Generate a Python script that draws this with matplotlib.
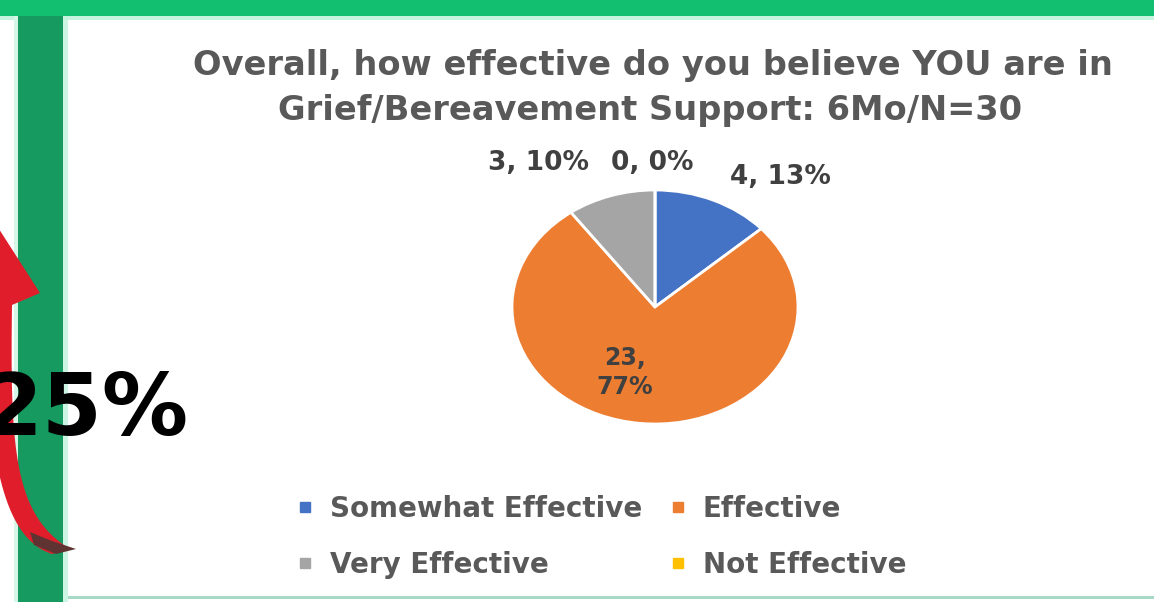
import matplotlib
matplotlib.use("Agg")
import matplotlib.pyplot as plt
import numpy as np
from matplotlib.patches import Rectangle, Polygon
from matplotlib.lines import Line2D

# ---- data -------------------------------------------------------------
title_lines = ["Overall, how effective do you believe YOU are in",
               "Grief/Bereavement Support: 6Mo/N=30"]
categories = ["Somewhat Effective", "Effective", "Very Effective", "Not Effective"]
counts = [4, 23, 3, 0]
slice_colors = ["#4472C4", "#ED7D31", "#A5A5A5", "#FFC000"]
side_stat = "25%"

# ---- layout -----------------------------------------------------------
W, H = 1154, 602
DPI = 100
fig = plt.figure(figsize=(W / DPI, H / DPI), dpi=DPI)
fig.patch.set_facecolor("white")

# background canvas in pixel units (y grows downwards)
bg = fig.add_axes([0, 0, 1, 1], zorder=0)
bg.set_xlim(0, W)
bg.set_ylim(H, 0)
bg.axis("off")

# slide frame: top band, left vertical band, bottom rule
bg.add_patch(Rectangle((0, 0), W, 16, color="#12bf70", lw=0))
bg.add_patch(Rectangle((0, 16), W, 4, color="#c4f4de", lw=0))
bg.add_patch(Rectangle((14, 16), 4, H, color="#d6f6e8", lw=0))
bg.add_patch(Rectangle((18, 16), 45, H, color="#169a60", lw=0))
bg.add_patch(Rectangle((63, 20), 5, H, color="#cdf5e4", lw=0))
bg.add_patch(Rectangle((68, 596), W, 3, color="#a6d9c6", lw=0))

# curved red arrow on the left edge
def bez3(p0, p1, p2, p3, n=40):
    t = np.linspace(0, 1, n)[:, None]
    p0, p1, p2, p3 = map(np.asarray, (p0, p1, p2, p3))
    return ((1 - t) ** 3 * p0 + 3 * (1 - t) ** 2 * t * p1
            + 3 * (1 - t) * t ** 2 * p2 + t ** 3 * p3)

inner = bez3((12, 305), (10, 450), (14, 515), (70, 549))
outer = bez3((52, 554), (10, 540), (-14, 480), (-14, 305))
head = np.array([(-14, 305), (-50, 293), (-10, 215), (40, 293), (12, 305)])
arrow_pts = np.vstack([head, inner, outer])
bg.add_patch(Polygon(arrow_pts, closed=True, color="#e01e2b", lw=0, zorder=2))
tail = np.array([(30, 532), (52, 541), (76, 549), (56, 554), (34, 545)])
bg.add_patch(Polygon(tail, closed=True, color="#5e3332", lw=0, zorder=3))

bg.text(188, 435, side_stat, ha="right", va="baseline", fontsize=62,
        fontweight="bold", color="black", family="DejaVu Sans", zorder=4)

# title
title_color = "#595959"
bg.text(653, 75, title_lines[0], ha="center", va="baseline", fontsize=24.2,
        fontweight="bold", color=title_color, zorder=4)
bg.text(650, 120, title_lines[1], ha="center", va="baseline", fontsize=24.2,
        fontweight="bold", color=title_color, zorder=4)

# ---- pie (stretched horizontally like the slide) ----------------------
cx, cy, rx, ry = 655, 307, 143, 117
ax = fig.add_axes([(cx - rx) / W, 1 - (cy + ry) / H, 2 * rx / W, 2 * ry / H], zorder=5)
wedges, _ = ax.pie(counts, colors=slice_colors, startangle=90, counterclock=False,
                   wedgeprops=dict(edgecolor="white", linewidth=2))
ax.set_aspect("auto")
ax.set_xlim(-1, 1)
ax.set_ylim(-1, 1)
ax.axis("off")

total = sum(counts)
label_color = "#404040"
# label anchors in pie units, one per category
label_pos = [(0.874, 1.11), (-0.21, -0.56), (-0.818, 1.23), (-0.02, 1.23)]
for v, (lx, ly), cat in zip(counts, label_pos, categories):
    pct = round(100 * v / total)
    if cat == "Effective":
        txt, fs = f"{v},\n{pct}%", 17
    else:
        txt, fs = f"{v}, {pct}%", 19
    ax.text(lx, ly, txt, ha="center", va="center", fontsize=fs, fontweight="bold",
            color=label_color, linespacing=1.25, clip_on=False)

# ---- legend ------------------------------------------------------------
handles = [Line2D([], [], marker="s", linestyle="", markersize=7, color=c)
           for c in slice_colors]
order = [0, 2, 1, 3]
leg = fig.legend([handles[i] for i in order], [categories[i] for i in order],
                 ncol=2, loc="center", bbox_to_anchor=(600 / W, 1 - 537 / H),
                 frameon=False, prop=dict(size=20, weight="bold"),
                 handlelength=0.8, handletextpad=0.5, columnspacing=0.9,
                 labelspacing=1.0)
for t in leg.get_texts():
    t.set_color("#595959")

fig.savefig("out.png", dpi=DPI, facecolor="white")
